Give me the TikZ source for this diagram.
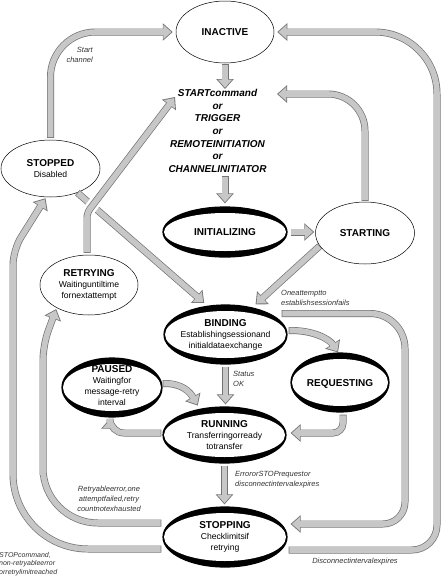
\documentclass[tikz,border=0pt]{standalone}
\usepackage{fontspec}
\setmainfont{Liberation Sans}
\usetikzlibrary{shapes.geometric,arrows.meta,calc}

\newcommand{\ttlfont}{\fontsize{10}{11}\selectfont\bfseries}

\tikzset{
  state/.style={ellipse, draw, line width=0.5pt, fill=white, inner sep=0pt},
  busy/.style={state, line width=1.2pt,
    path picture={
      \fill[black] (path picture bounding box.north west) rectangle (path picture bounding box.south east);
      \fill[white] let \p1=($(path picture bounding box.north east)-(path picture bounding box.center)$)
        in (path picture bounding box.center) ellipse ({\x1-1pt} and {\y1-6pt});
    }},
  ttl/.style={font=\ttlfont},
  txt/.style={font=\fontsize{8.6}{11}\selectfont, align=center},
  lbl/.style={font=\fontsize{7.5}{10}\selectfont\itshape, text=black!80, inner sep=0pt},
  band/.style={line width=7pt, draw=black!55, -{Triangle[length=10pt,width=17pt]},
    postaction={draw=black!22, line width=5.6pt, shorten <=0.7pt, shorten >=1.3pt,
      -{Triangle[length=8pt,width=13.6pt]}}},
}

\begin{document}
\begin{tikzpicture}[x=1pt, y=-1pt]
  \useasboundingbox (0,0) rectangle (441,582);

  % states
  \node[state, minimum width=98pt, minimum height=62pt, label={[ttl]center:INACTIVE}] (inactive) at (225,32) {};
  \node[font=\fontsize{10}{12.7}\selectfont\bfseries\itshape, align=center, inner sep=0pt] (trig) at (217.5,131)
    {STARTcommand\\or\\TRIGGER\\or\\REMOTEINITIATION\\or\\CHANNELINITIATOR};
  \node[busy, minimum width=124pt, minimum height=50pt, label={[ttl]center:INITIALIZING}] (initializing) at (225,232) {};
  \node[state, minimum width=99pt, minimum height=62pt, label={[ttl]center:STARTING}] (starting) at (365,233) {};
  \node[state, minimum width=99pt, minimum height=57pt,
    label={[txt]center:{{\ttlfont STOPPED}\\Disabled}}] (stopped) at (50.5,168.5) {};
  \node[state, minimum width=98pt, minimum height=60pt,
    label={[txt]center:{{\ttlfont RETRYING}\\Waitinguntiltime\\fornextattempt}}] (retrying) at (89,285) {};
  \node[busy, minimum width=123pt, minimum height=59pt,
    label={[txt]center:{{\ttlfont BINDING}\\Establishingsessionand\\initialdataexchange}}] (binding) at (225.5,334.5) {};
  \node[busy, minimum width=98pt, minimum height=59pt, label={[ttl, yshift=-1.5pt]center:REQUESTING}] (requesting) at (340,382.5) {};
  \node[busy, minimum width=100pt, minimum height=59pt,
    label={[txt, yshift=2pt]center:{{\ttlfont PAUSED}\\Waitingfor\\message-retry\\interval}}] (paused) at (112,387.5) {};
  \node[busy, minimum width=123pt, minimum height=56pt,
    label={[txt]center:{{\ttlfont RUNNING}\\Transferringorready\\totransfer}}] (running) at (224.5,435) {};
  \node[busy, minimum width=124pt, minimum height=60pt,
    label={[txt]center:{{\ttlfont STOPPING}\\Checklimitsif\\retrying}}] (stopping) at (225,537) {};

  \coordinate (trigL) at (175,97);
  \coordinate (trigR) at (277,94);

  % transitions
  \draw[band] ([yshift=-1pt]inactive.south) -- (inactive.south |- trig.north);
  \draw[band] ([yshift=-3pt]initializing.north |- trig.south) -- ([yshift=3pt]initializing.north);
  \draw[band] ([xshift=3pt]initializing.east) -- ([xshift=-1pt]initializing.east -| starting.west);
  \draw[band] ([yshift=-2pt]binding.south) -- ([yshift=2pt]binding.south |- running.north);
  \draw[band] ([yshift=-2pt]running.south) -- ([yshift=2pt]running.south |- stopping.north);

  \draw[band, rounded corners=45pt] ([yshift=2pt]stopped.north) |- ([xshift=-3pt]inactive.west);
  \draw[band] ([shift={(1pt,-13pt)}]stopping.east) [rounded corners=25pt] -- (437,550) -- (437,300)
    [rounded corners=62pt] -- (437,32) -- ([xshift=3pt]inactive.east);
  \draw[band] ([shift={(-6pt,21pt)}]binding.east) [rounded corners=35pt] -- (405,313.5) -- (405,420)
    [rounded corners=22pt] -- (405,524) -- ([shift={(3pt,13pt)}]stopping.east);
  \draw[band, rounded corners=37pt] ([yshift=1pt]starting.north) |- (trigR);
  \draw[band] (starting.-164) -- ([shift={(3pt,3pt)}]binding.45);
  \draw[band] (stopped.-42) -- ([shift={(-2pt,3pt)}]binding.124);
  \draw[band, rounded corners=5pt, preaction={draw=white, line width=12pt, -}]
    ([shift={(-2pt,2pt)}]retrying.north) -- ++(0,-40) -- (trigL);

  \draw[band] ([shift={(-1pt,-12pt)}]stopping.west) [rounded corners=75pt] -- (13,549) -- (13,400)
    [rounded corners=15pt] -- (13,250) -- ([shift={(-5pt,-1pt)}]stopped.south);
  \draw[band] ([shift={(-1pt,14pt)}]stopping.west) [rounded corners=55pt] -- (43,523) -- (43,420)
    [rounded corners=15pt] -- (43,345) -- ([shift={(-1pt,-1pt)}]retrying.-144);

  \draw[band] ([shift={(1pt,4pt)}]binding.east) .. controls (315,330) and (330,340) .. ([xshift=-2pt]requesting.north);
  \draw[band] ([yshift=4pt]paused.east) .. controls (182,383) and (190,392) .. ([shift={(-3pt,3pt)}]running.132);
  \draw[band, rounded corners=14pt] ([shift={(-1pt,2pt)}]running.west) -| ([shift={(-2pt,-1pt)}]paused.south);
  \draw[band, rounded corners=10pt] ([shift={(3pt,-2pt)}]requesting.south) |- ([shift={(4pt,2pt)}]running.east);

  % labels
  \node[lbl, align=right, anchor=east] (startch) at (93,55) {Start\\channel};
  \node[lbl, align=left, anchor=west] (attfail) at (281,298) {Oneattemptto\\establishsessionfails};
  \node[lbl, align=left, anchor=west] (statok) at (233,378.5) {Status\\OK};
  \node[lbl, align=left, anchor=west] (errstop) at (235,480) {ErrororSTOPrequestor\\disconnectintervalexpires};
  \node[lbl, align=center] (retrylbl) at (109,498.5) {Retryableerror,one\\attemptfailed,retry\\countnotexhausted};
  \node[lbl, font=\fontsize{7}{8.5}\selectfont\itshape, align=left, anchor=west] (stoplbl) at (-1,564)
    {STOPcommand,\\non-retryableerror\\orretrylimitreached};
  \node[lbl] (disclbl) at (355,562) {Disconnectintervalexpires};
\end{tikzpicture}
\end{document}
